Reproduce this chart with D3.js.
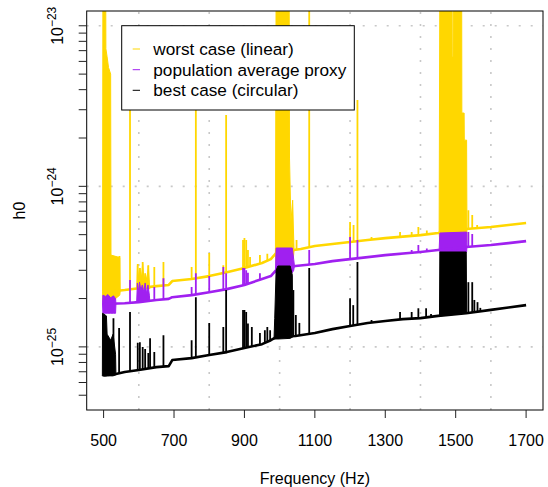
<!DOCTYPE html>
<html><head><meta charset="utf-8">
<script src="https://cdn.jsdelivr.net/npm/d3@7"></script>
<style>
body{margin:0;background:#fff}
svg{display:block}
text{font-family:"Liberation Sans",Arial,Helvetica,sans-serif;fill:#000}
</style>
</head><body>
<svg id="chart" width="548" height="487"></svg>
<script>
// ---------------- data ----------------
const xLim = [500, 1700];
const yLim = [5e-26, 1e-23];
const xTickValues = [500, 700, 900, 1100, 1300, 1500, 1700];
const xGridValues = [600, 800, 1000, 1200, 1400, 1600];
const yGridValues = [1e-25, 1e-24, 1e-23];
const yLabelExponents = [-25, -24, -23];
const xTitle = "Frequency (Hz)";
const yTitle = "h0";
const seriesNames = ["worst case (linear)", "population average proxy", "best case (circular)"];
const seriesColors = ["#FFD700", "#A020F0", "#000000"];

// baselines [frequency, h0]
const goldBase = [[500,2.19e-25],[535,2.23e-25],[560,2.26e-25],[600,2.32e-25],[650,2.39e-25],[685,2.43e-25],[695,2.57e-25],[750,2.65e-25],[800,2.76e-25],[850,2.92e-25],[900,3.10e-25],[950,3.33e-25],[975,3.52e-25],[990,3.84e-25],[1040,4.01e-25],[1060,4.07e-25],[1100,4.25e-25],[1150,4.37e-25],[1200,4.50e-25],[1250,4.63e-25],[1300,4.76e-25],[1400,4.97e-25],[1450,5.12e-25],[1530,5.42e-25],[1600,5.58e-25],[1650,5.74e-25],[1700,5.91e-25]];
const purpleBase = [[500,1.85e-25],[560,1.87e-25],[600,1.90e-25],[650,1.96e-25],[685,1.99e-25],[695,2.04e-25],[750,2.10e-25],[800,2.19e-25],[850,2.29e-25],[900,2.43e-25],[950,2.65e-25],[975,2.76e-25],[990,3.01e-25],[1045,3.19e-25],[1100,3.28e-25],[1150,3.42e-25],[1200,3.52e-25],[1300,3.73e-25],[1400,3.90e-25],[1450,4.01e-25],[1530,4.19e-25],[1600,4.31e-25],[1650,4.43e-25],[1700,4.56e-25]];
const blackBase = [[500,6.67e-26],[535,6.77e-26],[560,6.97e-26],[600,7.17e-26],[650,7.48e-26],[685,7.59e-26],[695,8.28e-26],[750,8.51e-26],[800,8.89e-26],[850,9.28e-26],[900,9.83e-26],[950,1.04e-25],[975,1.10e-25],[990,1.15e-25],[1045,1.17e-25],[1100,1.22e-25],[1150,1.29e-25],[1200,1.35e-25],[1250,1.41e-25],[1300,1.45e-25],[1350,1.49e-25],[1400,1.51e-25],[1450,1.56e-25],[1530,1.62e-25],[1600,1.70e-25],[1650,1.76e-25],[1700,1.82e-25]];

// narrow lines [frequency, peak h0]
const goldSpikes = [[545,3.68e-25],[575,6.1e-24],[597,3.28e-25],[603,3.10e-25],[611,3.38e-25],[618,2.88e-25],[627,3.23e-25],[644,3.14e-25],[670,3.38e-25],[750,3.14e-25],[762,6.1e-24],[800,3.84e-25],[840,3.23e-25],[848,2.78e-24],[896,4.63e-25],[900,4.76e-25],[905,4.63e-25],[910,4.01e-25],[916,3.63e-25],[944,3.73e-25],[965,3.80e-25],[1048,4.63e-25],[1084,2e-23],[1200,6.0e-25],[1210,5.74e-25],[1221,3.45e-24],[1261,4.83e-25],[1342,5.19e-25],[1375,5.19e-25],[1394,5.58e-25],[1418,5.30e-25],[1536,7.1e-25],[1547,6.63e-25],[1561,5.74e-25],[1569,5.58e-25]];
const purpleSpikes = [[575,2.61e-25],[644,2.36e-25],[670,2.68e-25],[750,2.36e-25],[762,2.88e-25],[800,2.76e-25],[840,3.14e-25],[848,2.88e-25],[896,3.10e-25],[900,3.10e-25],[905,3.00e-25],[910,2.90e-25],[944,2.88e-25],[1084,4.01e-25],[1200,4.83e-25],[1221,4.63e-25],[1261,3.63e-25],[1342,3.84e-25],[1375,4.01e-25],[1394,4.31e-25],[1418,4.10e-25],[1536,5.19e-25],[1547,5.04e-25],[1561,4.31e-25]];
const blackSpikes = [[528,1.51e-25],[544,1.31e-25],[575,1.65e-25],[597,1.06e-25],[603,1.07e-25],[611,9.97e-26],[618,9.7e-26],[627,9.15e-26],[632,1.13e-25],[644,9.28e-26],[670,1.18e-25],[750,1.10e-25],[762,2.04e-25],[800,1.41e-25],[840,1.33e-25],[848,2.26e-25],[896,1.70e-25],[900,1.70e-25],[905,1.65e-25],[910,1.40e-25],[921,1.33e-25],[944,1.22e-25],[958,1.27e-25],[965,1.33e-25],[973,1.27e-25],[1039,2.26e-25],[1046,1.58e-25],[1056,1.41e-25],[1084,3.10e-25],[1200,2.01e-25],[1209,1.82e-25],[1221,3.38e-25],[1261,1.47e-25],[1342,1.65e-25],[1375,1.65e-25],[1394,1.74e-25],[1416,1.74e-25],[1430,1.60e-25],[1536,2.53e-25],[1547,2.53e-25],[1553,1.96e-25],[1562,1.90e-25],[1570,1.75e-25]];

// dense bands [frequency, low h0, high h0]
const goldBand500 = [[497,2.2e-25,2.2e-25],[498,1.9e-25,2e-23],[506,1.9e-25,2e-23],[506.5,1.9e-25,7.2e-24],[510,1.9e-25,6.4e-24],[514,1.9e-25,5.5e-24],[520,1.9e-25,5.0e-24],[521,1.9e-25,3.73e-25],[546,2.1e-25,3.6e-25],[547,2.2e-25,2.2e-25]];
const goldBand600 = [[594,2.3e-25,2.3e-25],[596,2.3e-25,3.2e-25],[599,2.3e-25,2.7e-25],[603,2.3e-25,3.1e-25],[607,2.3e-25,2.65e-25],[611,2.3e-25,3.3e-25],[615,2.3e-25,2.6e-25],[619,2.3e-25,2.85e-25],[623,2.3e-25,2.6e-25],[627,2.3e-25,3.2e-25],[630,2.3e-25,2.5e-25],[631,2.3e-25,2.3e-25]];
const goldBand1000 = [[988,3.8e-25,3.8e-25],[990,3.3e-25,2e-23],[1027,3.3e-25,2e-23],[1028,3.4e-25,1.5e-24],[1032,3.4e-25,6.0e-25],[1037,3.5e-25,8.2e-25],[1039,3.6e-25,5.5e-25],[1041,4.0e-25,4.0e-25]];
const goldBand1500 = [[1453,5.1e-25,5.1e-25],[1455,4.5e-25,2e-23],[1489.5,4.5e-25,2e-23],[1490,4.5e-25,6.4e-24],[1492.5,4.5e-25,6.4e-24],[1493,4.5e-25,2e-23],[1517,4.5e-25,2e-23],[1517.5,4.5e-25,2.86e-24],[1524,4.5e-25,2.86e-24],[1524.5,4.5e-25,1.94e-24],[1531,4.5e-25,1.94e-24],[1532,5.4e-25,5.4e-25]];
const purpleBand500 = [[497,1.85e-25,1.85e-25],[498,1.62e-25,2.10e-25],[506,1.62e-25,2.06e-25],[512,1.62e-25,2.12e-25],[520,1.62e-25,2.02e-25],[528,1.62e-25,2.08e-25],[534,1.62e-25,2.00e-25],[535,1.85e-25,1.85e-25]];
const purpleBand600 = [[594,1.92e-25,1.92e-25],[596,1.92e-25,2.5e-25],[599,1.92e-25,2.2e-25],[602,1.92e-25,2.53e-25],[606,1.93e-25,2.25e-25],[610,1.93e-25,2.43e-25],[614,1.93e-25,2.2e-25],[618,1.94e-25,2.5e-25],[622,1.94e-25,2.15e-25],[626,1.95e-25,2.43e-25],[630,1.95e-25,2.1e-25],[631,1.95e-25,1.95e-25]];
const purpleBand1000 = [[988,2.9e-25,2.9e-25],[990,2.9e-25,4.13e-25],[1036,2.9e-25,4.13e-25],[1040,3.0e-25,3.5e-25],[1042,3.2e-25,3.2e-25]];
const purpleBand1500 = [[1453,4.0e-25,4.0e-25],[1455,3.9e-25,5.12e-25],[1531,3.9e-25,5.19e-25],[1532,4.2e-25,4.2e-25]];
const blackBand500 = [[496.5,6.6e-26,6.6e-26],[497,6.58e-26,1.62e-25],[508,6.58e-26,1.56e-25],[510,6.6e-26,1.2e-25],[520,6.6e-26,1.1e-25],[527,6.6e-26,1.2e-25],[534,6.7e-26,9.0e-26],[535,6.77e-26,6.77e-26]];
const blackBand1000 = [[984,1.12e-25,1.12e-25],[986,1.12e-25,1.5e-25],[990,1.12e-25,3.0e-25],[995,1.12e-25,3.19e-25],[1030,1.13e-25,3.19e-25],[1036,1.15e-25,2.8e-25],[1037,1.15e-25,1.15e-25]];
const blackBand1500 = [[1454,1.56e-25,1.56e-25],[1455,1.56e-25,3.9e-25],[1530,1.62e-25,3.9e-25],[1531,1.62e-25,1.62e-25]];

const goldBands = [goldBand500, goldBand600, goldBand1000, goldBand1500];
const purpleBands = [purpleBand500, purpleBand600, purpleBand1000, purpleBand1500];
const blackBands = [blackBand500, blackBand1000, blackBand1500];

// ---------------- layout ----------------
const plotL = 86.7, plotR = 543, plotT = 11, plotB = 410;
const svg = d3.select("#chart");

// R-style 4% axis extension
const xExt = (xLim[1] - xLim[0]) * 0.04;
const x = d3.scaleLinear().domain([xLim[0] - xExt, xLim[1] + xExt]).range([plotL, plotR]);
const lyLo = Math.log10(yLim[0]), lyHi = Math.log10(yLim[1]);
const yExt = (lyHi - lyLo) * 0.04;
const y = d3.scaleLog().domain([Math.pow(10, lyLo - yExt), Math.pow(10, lyHi + yExt)]).range([plotB, plotT]);

svg.append("defs").append("clipPath").attr("id", "clip")
  .append("rect").attr("x", plotL).attr("y", plotT).attr("width", plotR - plotL).attr("height", plotB - plotT);

// grid
const grid = svg.append("g").attr("stroke", "#c8c8c8").attr("stroke-width", 1.6).attr("stroke-dasharray", "2,10");
grid.selectAll(".gv").data(xGridValues).join("line")
  .attr("x1", d => x(d)).attr("x2", d => x(d)).attr("y1", plotB).attr("y2", plotT);
grid.selectAll(".gh").data(yGridValues).join("line")
  .attr("y1", d => y(d)).attr("y2", d => y(d)).attr("x1", plotL).attr("x2", plotR);

// series
const plot = svg.append("g").attr("clip-path", "url(#clip)");
function drawSeries(base, spikes, bands, color) {
  const g = plot.append("g");
  const area = d3.area().x(d => x(d[0])).y0(d => y(d[1])).y1(d => y(d[2]));
  g.selectAll(".band").data(bands).join("path")
    .attr("d", area).attr("fill", color).attr("stroke", color).attr("stroke-width", 1);
  const baseAt = d3.scaleLinear().domain(base.map(d => d[0])).range(base.map(d => d[1]));
  g.selectAll(".spike").data(spikes).join("line")
    .attr("x1", d => x(d[0])).attr("x2", d => x(d[0]))
    .attr("y1", d => y(baseAt(d[0]))).attr("y2", d => y(d[1]))
    .attr("stroke", color).attr("stroke-width", 1.8);
  g.append("path").datum(base)
    .attr("d", d3.line().x(d => x(d[0])).y(d => y(d[1])))
    .attr("fill", "none").attr("stroke", color).attr("stroke-width", 2.6).attr("stroke-linejoin", "round");
}
drawSeries(goldBase, goldSpikes, goldBands, seriesColors[0]);
drawSeries(purpleBase, purpleSpikes, purpleBands, seriesColors[1]);
drawSeries(blackBase, blackSpikes, blackBands, seriesColors[2]);

// box
svg.append("rect").attr("x", plotL).attr("y", plotT).attr("width", plotR - plotL).attr("height", plotB - plotT)
  .attr("fill", "none").attr("stroke", "#000").attr("stroke-width", 1);

// x axis
const tickLen = 8;
const ax = svg.append("g");
ax.selectAll(".xt").data(xTickValues).join("line")
  .attr("x1", d => x(d)).attr("x2", d => x(d)).attr("y1", plotB).attr("y2", plotB + tickLen)
  .attr("stroke", "#222").attr("stroke-width", 1);
ax.selectAll(".xl").data(xTickValues).join("text")
  .attr("x", d => x(d)).attr("y", 446).attr("text-anchor", "middle").attr("font-size", 16).text(d => d);
svg.append("text").attr("x", (plotL + plotR) / 2).attr("y", 484).attr("text-anchor", "middle")
  .attr("font-size", 16).text(xTitle);

// y axis
const yTicks = y.ticks();
ax.selectAll(".yt").data(yTicks).join("line")
  .attr("y1", d => y(d)).attr("y2", d => y(d)).attr("x1", plotL).attr("x2", plotL - tickLen)
  .attr("stroke", "#222").attr("stroke-width", 1);
yLabelExponents.forEach(e => {
  const t = svg.append("text")
    .attr("transform", `translate(63.3,${y(Math.pow(10, e))}) rotate(-90)`)
    .attr("text-anchor", "middle").attr("font-size", 16);
  t.append("tspan").text("10");
  t.append("tspan").attr("dy", -7).attr("font-size", 12).text("\u2212" + Math.abs(e));
});
svg.append("text").attr("transform", `translate(25,${(plotT + plotB) / 2}) rotate(-90)`)
  .attr("text-anchor", "middle").attr("font-size", 16).text(yTitle);

// legend
const lg = svg.append("g");
lg.append("rect").attr("x", 121.7).attr("y", 25.7).attr("width", 232.6).attr("height", 84.3)
  .attr("fill", "#fff").attr("stroke", "#000").attr("stroke-width", 1);
const rowY = [49, 69.7, 90.3];
seriesNames.forEach((name, i) => {
  lg.append("line").attr("x1", 132.7).attr("x2", 140).attr("y1", rowY[i]).attr("y2", rowY[i])
    .attr("stroke", seriesColors[i]).attr("stroke-width", 1);
  lg.append("text").attr("x", 153.3).attr("y", rowY[i] + 6).attr("font-size", 17.2).text(name);
});
</script>
</body></html>
